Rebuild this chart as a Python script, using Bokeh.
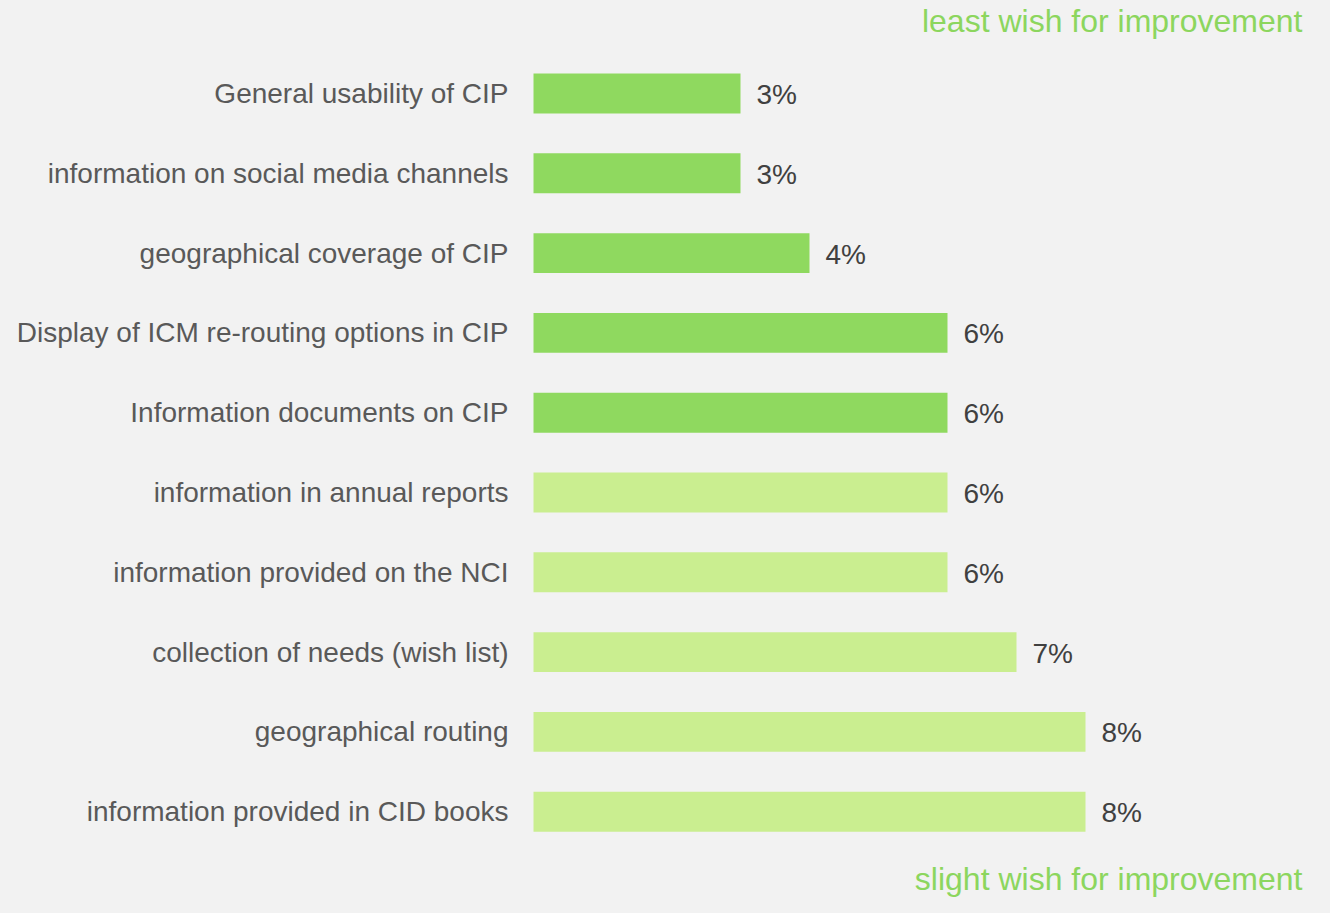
from bokeh.plotting import figure
from bokeh.models import Range1d, ColumnDataSource
from bokeh.core.properties import value
from bokeh.embed import file_html
from bokeh.resources import INLINE

# ---- data ----
categories = [
    "General usability of CIP",
    "information on social media channels",
    "geographical coverage of CIP",
    "Display of ICM re-routing options in CIP",
    "Information documents on CIP",
    "information in annual reports",
    "information provided on the NCI",
    "collection of needs (wish list)",
    "geographical routing",
    "information provided in CID books",
]
values = [3, 3, 4, 6, 6, 6, 6, 7, 8, 8]
groups = ["least", "least", "least", "least", "least",
          "slight", "slight", "slight", "slight", "slight"]
top_title = "least wish for improvement"
bottom_title = "slight wish for improvement"

# ---- style ----
BG = "#f2f2f2"
DARK = "#8fd95f"
LIGHT = "#caee90"
TITLE_C = "#8cd65e"
LABEL_C = "#595959"
VALUE_C = "#404040"
FONT = "Liberation Sans"

W, H = 1314, 897
PX = 69.0      # pixels per percent
X0 = 533.0     # pixel of 0 %
ROW = 79.8     # pixels per row
Y0 = 93.0      # pixel centre of first row

x_range = Range1d(-X0 / PX, (W - X0) / PX)
y_top = -Y0 / ROW
y_bottom = y_top + H / ROW
y_range = Range1d(y_bottom, y_top)

p = figure(width=W, height=H, x_range=x_range, y_range=y_range,
           output_backend="svg", toolbar_location=None,
           min_border=0, min_border_left=0, min_border_right=0,
           min_border_top=0, min_border_bottom=0)
p.axis.visible = False
p.grid.visible = False
p.outline_line_color = None
p.background_fill_color = BG
p.border_fill_color = BG

pos = list(range(len(categories)))
colors = [DARK if g == "least" else LIGHT for g in groups]
pct = [f"{v}%" for v in values]
src = ColumnDataSource(dict(y=pos, v=values, c=colors, cat=categories, pct=pct))

p.hbar(y="y", left=0, right="v", height=0.5, fill_color="c",
       line_color=None, source=src)

p.text(x=0, y="y", text="cat", source=src, x_offset=-25, y_offset=0,
       text_align="right", text_baseline="middle",
       text_font=value(FONT), text_font_size="28px", text_color=LABEL_C)

p.text(x="v", y="y", text="pct", source=src, x_offset=16, y_offset=1,
       text_align="left", text_baseline="middle",
       text_font=value(FONT), text_font_size="28px", text_color=VALUE_C)

x_right = x_range.start + 1302 / PX
tsrc = ColumnDataSource(dict(x=[x_right, x_right],
                             y=[y_top + 20 / ROW, y_top + 878 / ROW],
                             t=[top_title, bottom_title]))
p.text(x="x", y="y", text="t", source=tsrc,
       text_align="right", text_baseline="middle",
       text_font=value(FONT), text_font_size="32px", text_color=TITLE_C)

html = file_html(p, INLINE)
html = html.replace("<head>", "<head><style>html,body{background:#f2f2f2;}</style>", 1)
open("out.html", "w").write(html)
